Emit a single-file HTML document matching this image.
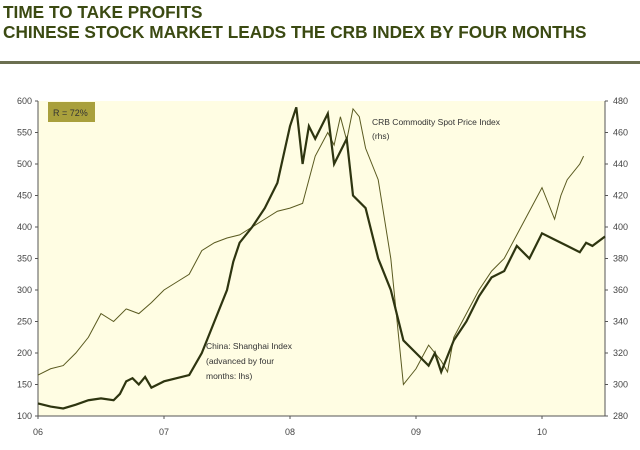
<!DOCTYPE html>
<html><head><meta charset="utf-8"><style>
body{margin:0;width:640px;height:450px;background:#fff;font-family:"Liberation Sans",sans-serif;overflow:hidden}
.t{position:absolute;left:3px;font-weight:bold;color:#3b4a12;font-size:17.5px;letter-spacing:0px;transform:scaleX(0.985);transform-origin:left}
</style></head><body>
<div class="t" style="top:2px">TIME TO TAKE PROFITS</div>
<div class="t" style="top:22px">CHINESE STOCK MARKET LEADS THE CRB INDEX BY FOUR MONTHS</div>
<div style="position:absolute;left:0;top:61px;width:640px;height:3px;background:#6b6f50"></div>
<svg id="c" width="640" height="450" style="position:absolute;left:0;top:0"></svg>
<script>
const years=[2006,2007,2008,2009,2010];
const yearLabels=["06","07","08","09","10"];
const lTicks=[100,150,200,250,300,350,400,450,500,550,600];
const rTicks=[280,300,320,340,360,380,400,420,440,460,480];
const shT=[2006.0,2006.1,2006.2,2006.3,2006.4,2006.5,2006.6,2006.65,2006.7,2006.75,2006.8,2006.85,2006.9,2007.0,2007.1,2007.2,2007.3,2007.4,2007.5,2007.55,2007.6,2007.7,2007.8,2007.9,2008.0,2008.05,2008.1,2008.15,2008.2,2008.3,2008.35,2008.4,2008.45,2008.5,2008.6,2008.7,2008.8,2008.85,2008.9,2009.0,2009.1,2009.15,2009.2,2009.3,2009.4,2009.5,2009.6,2009.7,2009.8,2009.9,2010.0,2010.1,2010.2,2010.3,2010.35,2010.4,2010.5];
const shV=[120,115,112,118,125,128,125,135,155,160,150,162,145,155,160,165,200,250,300,345,375,400,430,470,560,590,500,560,540,580,500,520,540,450,430,350,300,260,220,200,180,200,170,220,250,290,320,330,370,350,390,380,370,360,375,370,385];
const crbT=[2006.0,2006.1,2006.2,2006.3,2006.4,2006.5,2006.6,2006.7,2006.8,2006.9,2007.0,2007.1,2007.2,2007.3,2007.4,2007.5,2007.6,2007.7,2007.8,2007.9,2008.0,2008.1,2008.2,2008.3,2008.35,2008.4,2008.45,2008.5,2008.55,2008.6,2008.7,2008.8,2008.85,2008.9,2008.95,2009.0,2009.1,2009.2,2009.25,2009.3,2009.4,2009.5,2009.6,2009.7,2009.8,2009.9,2010.0,2010.05,2010.1,2010.15,2010.2,2010.3,2010.33];
const crbV=[306,310,312,320,330,345,340,348,345,352,360,365,370,385,390,393,395,400,405,410,412,415,445,460,452,470,455,475,470,450,430,380,340,300,305,310,325,315,308,330,345,360,372,380,395,410,425,415,405,420,430,440,445];
const X0=38,X1=605,Y0=416,Y1=101,T0=2006,T1=2010.5;
const x=t=>X0+(t-T0)/(T1-T0)*(X1-X0);
const yl=v=>Y0-(v-100)/500*(Y0-Y1);
const yr=v=>Y0-(v-280)/200*(Y0-Y1);
const svg=document.getElementById('c');const NS='http://www.w3.org/2000/svg';
function mk(tag,a,txt){const e=document.createElementNS(NS,tag);for(const k in a)e.setAttribute(k,a[k]);if(txt!=null)e.textContent=txt;svg.appendChild(e);return e;}
let e=mk('rect',{x:X0,y:Y1,width:X1-X0,height:Y0-Y1,fill:'#fffde3'});


e=mk('rect',{x:48,y:102,width:47,height:20,fill:'#a9a03c'});


e=mk('text',{x:53,y:116,'font-size':9,fill:'#333'},'R = 72%');


mk('line',{x1:X0,y1:Y1,x2:X0,y2:Y0,stroke:'#555'});
mk('line',{x1:X1,y1:Y1,x2:X1,y2:Y0,stroke:'#555'});
mk('line',{x1:X0,y1:Y0,x2:X1,y2:Y0,stroke:'#555'});
lTicks.forEach(v=>{mk('line',{x1:X0-3,y1:yl(v),x2:X0,y2:yl(v),stroke:'#555'});
 const t=mk('text',{x:X0-6,y:yl(v)+3,'font-size':9,fill:'#444','text-anchor':'end'},v);
 
 });
rTicks.forEach(v=>{mk('line',{x1:X1,y1:yr(v),x2:X1+3,y2:yr(v),stroke:'#555'});
 const t=mk('text',{x:X1+8,y:yr(v)+3,'font-size':9,fill:'#444'},v);
 
 });
years.forEach((yv,i)=>{mk('line',{x1:x(yv),y1:Y0,x2:x(yv),y2:Y0+3,stroke:'#555'});
 const t=mk('text',{x:x(yv),y:Y0+19,'font-size':9,fill:'#444','text-anchor':'middle'},yearLabels[i]);
 
 });
e=mk('polyline',{points:crbT.map((t,i)=>x(t)+','+yr(crbV[i])).join(' '),fill:'none',stroke:'#5a5a20','stroke-width':1});


e=mk('polyline',{points:shT.map((t,i)=>x(t)+','+yl(shV[i])).join(' '),fill:'none',stroke:'#2e3510','stroke-width':2.2});


[['CRB Commodity Spot Price Index',372,125],['(rhs)',372,139]].forEach(a=>{const t=mk('text',{x:a[1],y:a[2],'font-size':8.5,fill:'#333'},a[0]);
 
 });
[['China: Shanghai Index',206,349],['(advanced by four',206,364],['months: lhs)',206,379]].forEach(a=>{const t=mk('text',{x:a[1],y:a[2],'font-size':8.5,fill:'#333'},a[0]);
 
 });
</script>
</body></html>
